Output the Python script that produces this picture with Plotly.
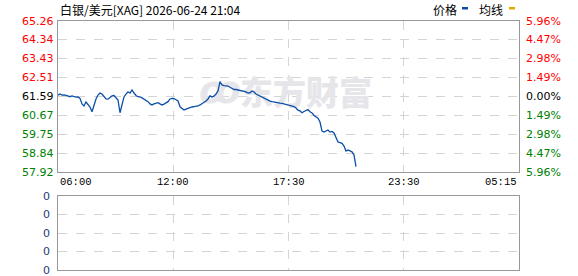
import plotly.graph_objects as go

W, H = 578, 276

# ---------------- data ----------------
title_text = "白银/美元[XAG] 2026-06-24 21:04"
time_labels = ["06:00", "12:00", "17:30", "23:30", "05:15"]
price_ticks = [65.26, 64.34, 63.43, 62.51, 61.59, 60.67, 59.75, 58.84, 57.92]
pct_labels = ["5.96%", "4.47%", "2.98%", "1.49%", "0.00%", "1.49%", "2.98%", "4.47%", "5.96%"]
vol_labels = ["0", "0", "0", "0", "0"]
prices = [
    61.66, 61.71, 61.66, 61.67, 61.64, 61.62, 61.58, 61.62, 61.57, 61.56,
    61.57, 61.50, 61.23, 61.13, 61.32, 61.22, 61.08, 60.85, 61.22, 61.47,
    61.66, 61.76, 61.71, 61.57, 61.47, 61.46, 61.55, 61.62, 61.64, 61.52,
    61.42, 60.80, 61.27, 61.57, 61.71, 61.82, 61.76, 61.91, 61.76, 61.64,
    61.58, 61.57, 61.52, 61.47, 61.42, 61.34, 61.23, 61.18, 61.23, 61.27,
    61.29, 61.23, 61.18, 61.22, 61.30, 61.34, 61.47, 61.50, 61.49, 61.44,
    61.37, 61.09, 61.03, 60.93, 60.98, 61.02, 61.06, 61.08, 61.10, 61.11,
    61.13, 61.18, 61.23, 61.32, 61.37, 61.47, 61.62, 61.57, 61.61, 61.71,
    61.86, 62.31, 62.15, 62.12, 62.10, 62.10, 62.04, 61.99, 61.93, 61.93,
    61.91, 61.87, 61.87, 61.83, 61.81, 61.76, 61.77, 61.86, 61.81, 61.71,
    61.66, 61.62, 61.57, 61.49, 61.44, 61.42, 61.37, 61.34, 61.32, 61.30,
    61.26, 61.27, 61.26, 61.23, 61.20, 61.18, 61.13, 61.13, 61.10, 61.03,
    60.93, 60.89, 60.80, 60.86, 60.93, 60.96, 60.85, 60.79, 60.67, 60.62,
    60.53, 60.35, 59.91, 59.86, 59.91, 59.96, 59.86, 59.89, 59.82, 59.57,
    59.38, 59.35, 59.31, 59.18, 58.94, 58.99, 58.96, 58.90, 58.75, 58.18,
]
n_slots = 230.5  # total session length in sample units
# --------------------------------------

x_vals = list(range(len(prices)))
tick_pos = [n_slots * k / 4 for k in range(5)]

# plot geometry (pixels)
L, R = 58, 519
MT, MB = 21, 172
VT, VB = 196, 270

def px(xp):
    return xp / W

def py(yp):
    return 1 - yp / H

RED, GREEN, BLACK = "#ff0000", "#008000", "#000000"
NAVY = "#1c3a78"
GRID = "#d4d4d4"
BORDER = "#999999"
LINE = "#0a4fa8"
WM = "#e6e6ea"

fig = go.Figure()

# watermark (drawn first so line is above it)
fig.add_trace(go.Scatter(
    x=[124], y=[61.60], mode="text", text=["东方财富"],
    textfont=dict(family="Noto Sans CJK SC", size=33, color=WM, weight=900),
    hoverinfo="skip", showlegend=False, xaxis="x", yaxis="y"))
fig.add_trace(go.Scatter(
    x=[81], y=[61.72], mode="text", text=["ꝏ"],
    textfont=dict(family="DejaVu Sans", size=38, color=WM, weight=900, style="italic"),
    hoverinfo="skip", showlegend=False, xaxis="x", yaxis="y"))

fig.add_trace(go.Scatter(
    x=x_vals, y=prices, mode="lines",
    line=dict(color=LINE, width=1.3),
    hoverinfo="skip", showlegend=False, xaxis="x", yaxis="y"))

# empty trace for lower panel
fig.add_trace(go.Scatter(x=[None], y=[None], xaxis="x2", yaxis="y2",
                         showlegend=False, hoverinfo="skip"))

axis_common = dict(showline=True, mirror=True, linecolor=BORDER, linewidth=1,
                   showticklabels=False, ticks="", zeroline=False,
                   showgrid=True, gridcolor=GRID, griddash="dash", gridwidth=1)

fig.update_layout(
    width=W, height=H,
    margin=dict(l=0, r=0, t=0, b=0),
    paper_bgcolor="white", plot_bgcolor="white",
    xaxis=dict(domain=[px(L), px(R)], range=[0, n_slots], tickvals=tick_pos, **axis_common),
    yaxis=dict(domain=[py(MB), py(MT)], range=[price_ticks[-1], price_ticks[0]],
               tickvals=price_ticks, **axis_common),
    xaxis2=dict(domain=[px(L), px(R)], range=[0, n_slots], tickvals=tick_pos,
                anchor="y2", **axis_common),
    yaxis2=dict(domain=[py(VB), py(VT)], range=[0, 4], tickvals=[0, 1, 2, 3, 4],
                anchor="x2", **axis_common),
)

ann = []
tick_font = dict(family="DejaVu Sans", size=11)
mid = len(price_ticks) // 2
for i, (v, p) in enumerate(zip(price_ticks, pct_labels)):
    col = RED if i < mid else (BLACK if i == mid else GREEN)
    ann.append(dict(x=px(56), y=v, xref="paper", yref="y", text=f"{v:.2f}",
                    xanchor="right", yanchor="middle", showarrow=False,
                    font=dict(color=col, **tick_font)))
    ann.append(dict(x=px(524), y=v, xref="paper", yref="y", text=p,
                    xanchor="left", yanchor="middle", showarrow=False,
                    font=dict(color=col, **tick_font)))

for k, lab in enumerate(time_labels):
    xa = "left" if k == 0 else ("right" if k == len(time_labels) - 1 else "center")
    ann.append(dict(x=tick_pos[k], y=py(182), xref="x", yref="paper", text=lab,
                    xanchor=xa, yanchor="middle", showarrow=False,
                    font=dict(family="Liberation Mono", size=10.5, color=BLACK)))

for k, lab in enumerate(vol_labels):
    ann.append(dict(x=px(52), y=4 - k, xref="paper", yref="y2", text=lab,
                    xanchor="right", yanchor="middle", showarrow=False,
                    font=dict(family="DejaVu Sans", size=11, color=NAVY)))

# title
ann.append(dict(x=px(58), y=py(9), xref="paper", yref="paper",
                text=title_text, xanchor="left", yanchor="middle", showarrow=False,
                font=dict(family="Noto Sans CJK SC", size=12, color=BLACK)))

# legend
ann.append(dict(x=px(431), y=py(9), xref="paper", yref="paper", text="价格",
                xanchor="left", yanchor="middle", showarrow=False,
                font=dict(family="Noto Sans CJK SC", size=12, color=BLACK)))
ann.append(dict(x=px(477), y=py(9), xref="paper", yref="paper", text="均线",
                xanchor="left", yanchor="middle", showarrow=False,
                font=dict(family="Noto Sans CJK SC", size=12, color=BLACK)))
fig.update_layout(annotations=ann)

fig.update_layout(shapes=[
    dict(type="rect", xref="paper", yref="paper", x0=px(462), x1=px(468),
         y0=py(9.5), y1=py(7), fillcolor=LINE, line=dict(width=0)),
    dict(type="rect", xref="paper", yref="paper", x0=px(509), x1=px(515),
         y0=py(9.5), y1=py(7), fillcolor="#e6a800", line=dict(width=0)),
])

fig.write_html("out.html", config=dict(displayModeBar=False))
